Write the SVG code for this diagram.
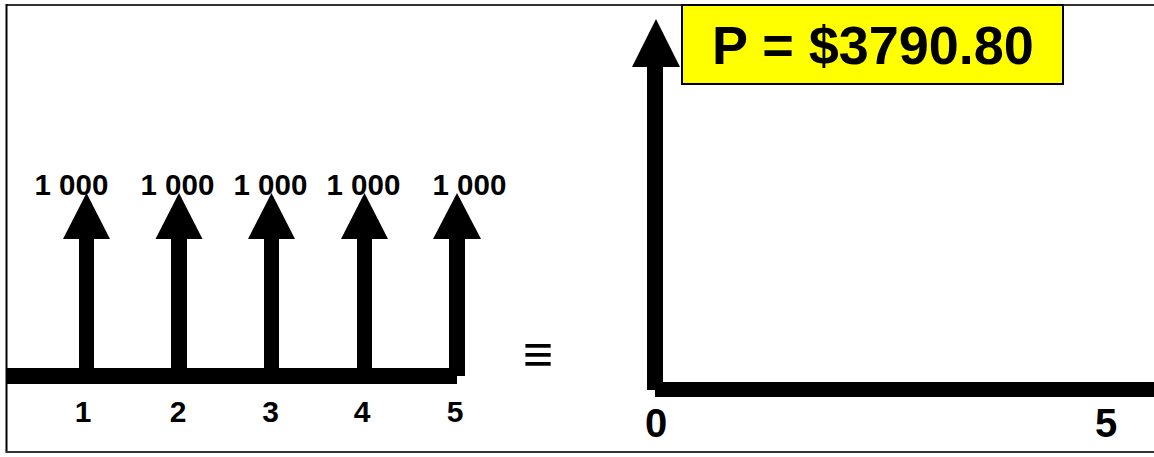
<svg xmlns="http://www.w3.org/2000/svg" width="1154" height="457" viewBox="0 0 1154 457">
<style>
  .lbl{font-family:"Liberation Sans",Arial,sans-serif;font-weight:bold;fill:#000}
  .amt{font-size:29.5px}
  .tick{font-size:30px;text-anchor:middle}
  .big{font-size:40px;text-anchor:middle}
</style>
<rect width="1154" height="457" fill="#fff"/>
<g id="frame">
  <line x1="6.5" y1="5" x2="1154" y2="5" stroke="#333" stroke-width="2"/>
  <line x1="6.5" y1="4" x2="6.5" y2="453" stroke="#000" stroke-width="2"/>
  <line x1="6" y1="452" x2="1154" y2="452" stroke="#333" stroke-width="2"/>
</g>
<g id="connectors">
  <rect x="7" y="368" width="450" height="16" fill="#000"/>
  <rect x="79" y="238" width="15" height="132" fill="#000"/>
  <path d="M86.5,193 L110,239 L63,239 Z" fill="#000"/>
  <rect x="171" y="238" width="16" height="132" fill="#000"/>
  <path d="M179,193 L202.5,239 L155.5,239 Z" fill="#000"/>
  <rect x="264" y="238" width="15" height="132" fill="#000"/>
  <path d="M271.5,193 L295,239 L248,239 Z" fill="#000"/>
  <rect x="357" y="238" width="15" height="132" fill="#000"/>
  <path d="M364.5,193 L388,239 L341,239 Z" fill="#000"/>
  <rect x="449" y="238" width="16" height="138" fill="#000"/>
  <path d="M457,193 L481,239 L433,239 Z" fill="#000"/>
  <rect x="647" y="66" width="16" height="324" fill="#000"/>
  <path d="M656,19 L680,67 L632,67 Z" fill="#000"/>
  <rect x="655" y="382" width="499" height="15" fill="#000"/>
</g>
<g id="amounts">
  <text class="lbl amt" x="34.5" y="194.5">1 000</text>
  <text class="lbl amt" x="140.5" y="194.5">1 000</text>
  <text class="lbl amt" x="233.5" y="194.5">1 000</text>
  <text class="lbl amt" x="326.5" y="194.5">1 000</text>
  <text class="lbl amt" x="432.5" y="194.5">1 000</text>
</g>
<g id="ticks">
  <text class="lbl tick" x="83" y="421.5">1</text>
  <text class="lbl tick" x="178" y="421.5">2</text>
  <text class="lbl tick" x="270.5" y="421.5">3</text>
  <text class="lbl tick" x="362" y="421.5">4</text>
  <text class="lbl tick" x="455" y="421.5">5</text>
</g>
<g id="equiv">
  <text class="lbl" x="538" y="372" font-size="52" text-anchor="middle">≡</text>
</g>
<g id="result">
  <rect x="682" y="5" width="381" height="79" fill="#ffff00" stroke="#000" stroke-width="2"/>
  <text class="lbl" x="873" y="64" font-size="54" text-anchor="middle">P = $3790.80</text>
</g>
<g id="axis-labels">
  <text class="lbl big" x="656" y="436.5">0</text>
  <text class="lbl big" x="1106" y="436.5">5</text>
</g>
</svg>
